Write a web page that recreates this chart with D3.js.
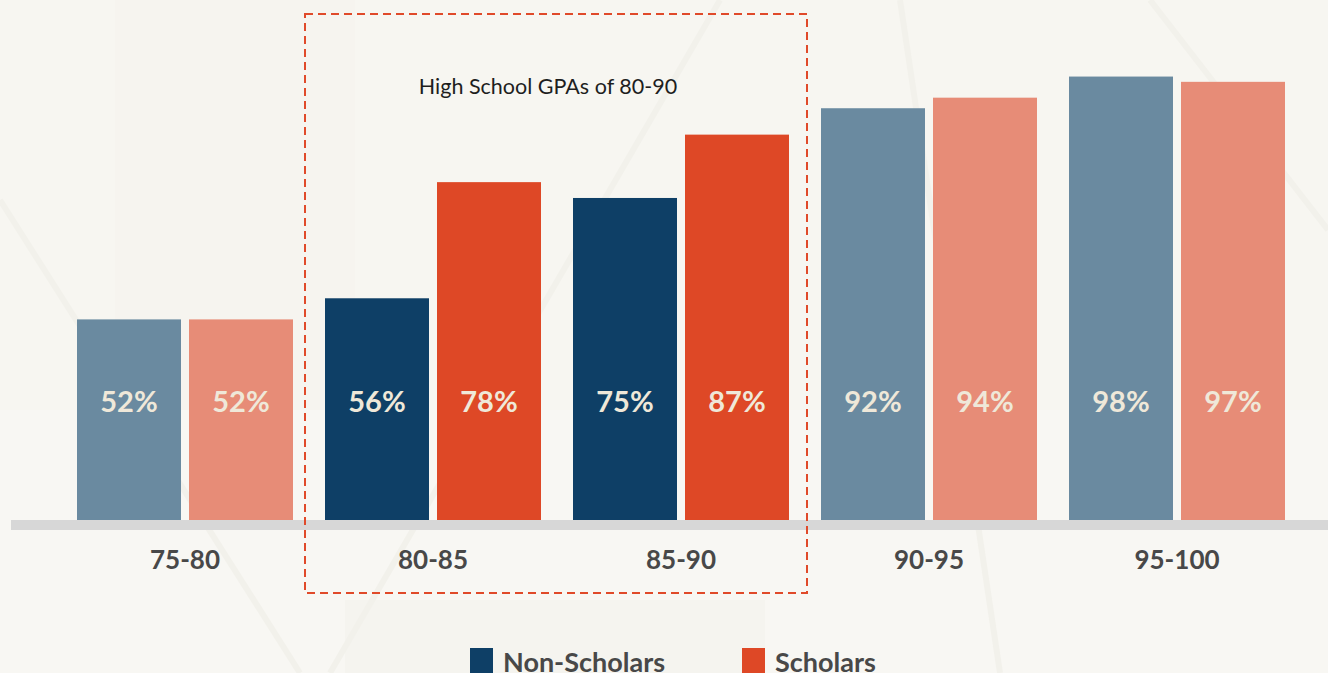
<!DOCTYPE html>
<html>
<head>
<meta charset="utf-8">
<script src="https://cdn.jsdelivr.net/npm/d3@7"></script>
<style>
  html, body { margin: 0; padding: 0; background: #f8f7f3; }
  svg { display: block; }
</style>
</head>
<body>
<div id="chart"></div>
<script>
// categories and values
var categories = ["75-80", "80-85", "85-90", "90-95", "95-100"];
var seriesNames = ["Non-Scholars", "Scholars"];
var nonScholars = [52, 56, 75, 92, 98];
var scholars = [52, 78, 87, 94, 97];
var highlighted = ["80-85", "85-90"];
var highlightTitle = "High School GPAs of 80-90";

var W = 1328, H = 673;
var baseY = 520;

var svg = d3.select("#chart").append("svg")
    .attr("width", W).attr("height", H);

// faint background geometry
var bg = svg.append("g");
bg.append("rect").attr("width", W).attr("height", H).attr("fill", "#f8f7f3");
bg.append("rect").attr("x", 0).attr("y", 0).attr("width", W).attr("height", 410).attr("fill", "#f7f6f1");
bg.append("rect").attr("x", 115).attr("y", 0).attr("width", 240).attr("height", 410).attr("fill", "#f5f4ef").attr("opacity", 0.6);
bg.append("rect").attr("x", 345).attr("y", 600).attr("width", 420).attr("height", 73).attr("fill", "#f5f4ef");
[[0, 200, 300, 673], [720, 0, 330, 673], [900, 0, 1000, 673], [1150, 0, 1328, 230]]
  .forEach(function(l) {
    bg.append("line").attr("x1", l[0]).attr("y1", l[1]).attr("x2", l[2]).attr("y2", l[3])
      .attr("stroke", "#f2f1eb").attr("stroke-width", 6);
  });

var x0 = d3.scaleBand().domain(categories)
    .range([77, 1285]).paddingInner(32 / 248).paddingOuter(0);
var x1 = d3.scaleBand().domain(seriesNames)
    .range([0, x0.bandwidth()]).paddingInner(8 / 112).paddingOuter(0);
var y = d3.scaleLinear().domain([14, 100]).range([baseY, 66]);

var faded = { "Non-Scholars": "#6a8aa0", "Scholars": "#e78c77" };
var strong = { "Non-Scholars": "#0e3f66", "Scholars": "#de4826" };

var rows = categories.map(function(c, i) {
  return [
    { cat: c, key: "Non-Scholars", value: nonScholars[i] },
    { cat: c, key: "Scholars", value: scholars[i] }
  ];
});

// baseline
svg.append("rect").attr("x", 11).attr("y", baseY).attr("width", W - 11).attr("height", 10)
    .attr("fill", "#d7d7d7");

var groups = svg.selectAll("g.grp").data(rows).enter().append("g")
    .attr("class", "grp")
    .attr("transform", function(d, i) { return "translate(" + x0(categories[i]) + ",0)"; });

groups.selectAll("rect").data(function(d) { return d; }).enter().append("rect")
    .attr("x", function(d) { return x1(d.key); })
    .attr("y", function(d) { return y(d.value); })
    .attr("width", x1.bandwidth())
    .attr("height", function(d) { return baseY - y(d.value); })
    .attr("fill", function(d) {
      return highlighted.indexOf(d.cat) >= 0 ? strong[d.key] : faded[d.key];
    });

groups.selectAll("text").data(function(d) { return d; }).enter().append("text")
    .attr("x", function(d) { return x1(d.key) + x1.bandwidth() / 2; })
    .attr("y", 412)
    .attr("text-anchor", "middle")
    .attr("font-family", "Lato, 'Open Sans', sans-serif")
    .attr("font-weight", 700)
    .attr("font-size", 29)
    .attr("fill", "#efe8d9")
    .text(function(d) { return d.value + "%"; });

// category labels
svg.selectAll("text.cat").data(categories).enter().append("text")
    .attr("class", "cat")
    .attr("x", function(c) { return x0(c) + x0.bandwidth() / 2; })
    .attr("y", 569)
    .attr("text-anchor", "middle")
    .attr("font-family", "Lato, 'Open Sans', sans-serif")
    .attr("font-weight", 700)
    .attr("font-size", 26)
    .attr("fill", "#484848")
    .text(function(c) { return c; });

// dashed highlight box
var hx0 = x0(highlighted[0]) - 20, hx1 = x0(highlighted[1]) + x0.bandwidth() + 18;
svg.append("rect")
    .attr("x", hx0).attr("y", 14)
    .attr("width", hx1 - hx0).attr("height", 579)
    .attr("fill", "none")
    .attr("stroke", "#e04a2a").attr("stroke-width", 2)
    .attr("stroke-dasharray", "8,5");
svg.append("text")
    .attr("x", (hx0 + hx1) / 2 - 8).attr("y", 94)
    .attr("text-anchor", "middle")
    .attr("font-family", "Lato, 'Open Sans', sans-serif")
    .attr("font-size", 21.5)
    .attr("fill", "#1e1e1e")
    .text(highlightTitle);

// legend
var legendX = [470, 742];
var leg = svg.selectAll("g.leg").data(seriesNames).enter().append("g")
    .attr("class", "leg")
    .attr("transform", function(d, i) { return "translate(" + legendX[i] + ",648)"; });
leg.append("rect").attr("width", 23).attr("height", 30)
    .attr("fill", function(d) { return strong[d]; });
leg.append("text").attr("x", 33).attr("y", 24)
    .attr("font-family", "Lato, 'Open Sans', sans-serif")
    .attr("font-weight", 700)
    .attr("font-size", 27)
    .attr("fill", "#484848")
    .text(function(d) { return d; });
</script>
</body>
</html>
